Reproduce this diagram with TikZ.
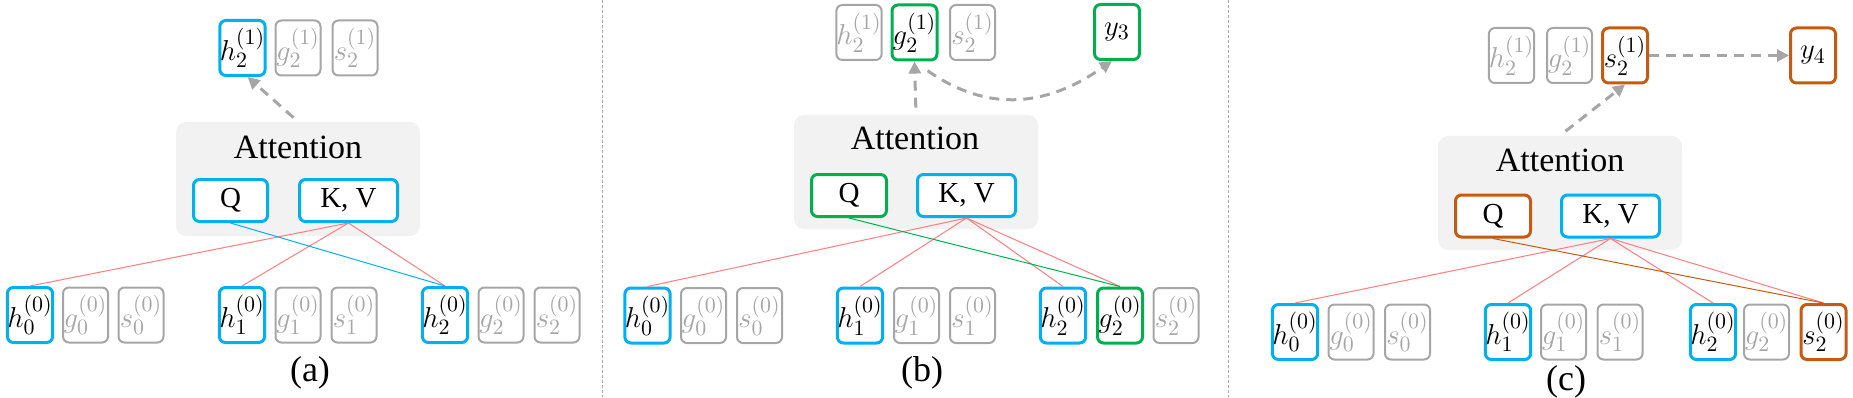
\documentclass[tikz,border=0pt]{standalone}
\usepackage{fontspec}
\setmainfont{Liberation Serif}
\usetikzlibrary{arrows.meta}
\definecolor{kvblue}{HTML}{00B0F0}
\definecolor{qgreen}{HTML}{00B050}
\definecolor{qorange}{HTML}{C55A11}
\definecolor{cellgrey}{HTML}{A6A6A6}
\definecolor{linkred}{HTML}{FF7C80}
\definecolor{attgrey}{HTML}{F2F2F2}

\begin{document}
\begin{tikzpicture}[x=0.5pt, y=0.5pt,
            cell/.style={rounded corners=3pt, minimum width=22.5pt, minimum height=27.5pt, inner sep=0pt, fill=white, font=\fontsize{15}{17}\selectfont},
            bluecell/.style={cell, draw=kvblue, line width=1.5pt},
            greencell/.style={cell, draw=qgreen, line width=1.5pt},
            orangecell/.style={cell, draw=qorange, line width=1.5pt},
            greycell/.style={cell, draw=cellgrey, line width=1pt, text=cellgrey},
            attbox/.style={fill=attgrey, rounded corners=5pt, minimum width=122pt, minimum height=57pt, inner sep=0pt},
            atttext/.style={font=\fontsize{17}{20}\selectfont},
            qkv/.style={rounded corners=3pt, minimum height=21pt, inner sep=0pt, fill=white, line width=1.5pt, font=\fontsize{14.5}{16}\selectfont},
            link/.style={line width=0.5pt},
            flow/.style={draw=cellgrey, line width=1.5pt, dash pattern=on 5pt off 3.5pt, -{Triangle[length=6pt,width=6pt]}},
            caption/.style={font=\fontsize{18}{20}\selectfont}
        ]
        \useasboundingbox (0,0) rectangle (1853,397);

        % Separators
        \coordinate (sep1top) at (602,397);
        \coordinate (sep1bot) at (602,0);
        \coordinate (sep2top) at (1228,397);
        \coordinate (sep2bot) at (1228,0);
        \draw[cellgrey, line width=0.5pt, dash pattern=on 1.5pt off 1pt] (sep1top) -- (sep1bot);
        \draw[cellgrey, line width=0.5pt, dash pattern=on 1.5pt off 1pt] (sep2top) -- (sep2bot);

        % Panel (a) - content stream
        \node[attbox] (attA) at (298,218) {};
        \node[atttext] (attTextA) at (298,250) {Attention};
        \node[qkv, draw=kvblue, minimum width=37pt] (qA) at (230.5,196.5) {Q};
        \node[qkv, draw=kvblue, minimum width=49pt] (kvA) at (348.5,196.5) {K, V};
        \node[bluecell] (h21A) at (242.5,349) {$h_2^{(1)}$};
        \node[greycell] (g21A) at (298,349) {$g_2^{(1)}$};
        \node[greycell] (s21A) at (355,349) {$s_2^{(1)}$};
        \node[bluecell] (h0A) at (30,82) {$h_0^{(0)}$};
        \node[greycell] (g0A) at (85.5,82) {$g_0^{(0)}$};
        \node[greycell] (s0A) at (141,82) {$s_0^{(0)}$};
        \node[bluecell] (h1A) at (242,82) {$h_1^{(0)}$};
        \node[greycell] (g1A) at (298,82) {$g_1^{(0)}$};
        \node[greycell] (s1A) at (354,82) {$s_1^{(0)}$};
        \node[bluecell] (h2A) at (445,82) {$h_2^{(0)}$};
        \node[greycell] (g2A) at (501,82) {$g_2^{(0)}$};
        \node[greycell] (s2A) at (557,82) {$s_2^{(0)}$};
        \draw[link, linkred] (kvA.south) -- (h0A.north);
        \draw[link, linkred] (kvA.south) -- (h1A.north);
        \draw[link, linkred] (kvA.south) -- (h2A.north);
        \draw[link, kvblue] (qA.south) -- (h2A.north);
        \draw[flow, shorten <=3pt] (attA.north) -- (h21A.-80);
        \node[caption] (labA) at (310,24) {(a)};

        % Panel (b) - query stream
        \node[attbox] (attB) at (916,225) {};
        \node[atttext] (attTextB) at (915,259) {Attention};
        \node[qkv, draw=qgreen, minimum width=37.5pt] (qB) at (849,201.5) {Q};
        \node[qkv, draw=kvblue, minimum width=49pt] (kvB) at (966.5,201.5) {K, V};
        \node[greycell] (h21B) at (859,364.5) {$h_2^{(1)}$};
        \node[greencell] (g21B) at (914.5,364.5) {$g_2^{(1)}$};
        \node[greycell] (s21B) at (972.5,364.5) {$s_2^{(1)}$};
        \node[greencell] (y3) at (1117,365) {$y_3$};
        \node[bluecell] (h0B) at (647.5,81.5) {$h_0^{(0)}$};
        \node[greycell] (g0B) at (703.5,81.5) {$g_0^{(0)}$};
        \node[greycell] (s0B) at (759.5,81.5) {$s_0^{(0)}$};
        \node[bluecell] (h1B) at (860,81.5) {$h_1^{(0)}$};
        \node[greycell] (g1B) at (916.5,81.5) {$g_1^{(0)}$};
        \node[greycell] (s1B) at (972.5,81.5) {$s_1^{(0)}$};
        \node[bluecell] (h2B) at (1063,81.5) {$h_2^{(0)}$};
        \node[greencell] (g2B) at (1120,81.5) {$g_2^{(0)}$};
        \node[greycell] (s2B) at (1176,81.5) {$s_2^{(0)}$};
        \draw[link, linkred] (kvB.south) -- (h0B.north);
        \draw[link, linkred] (kvB.south) -- (h1B.north);
        \draw[link, linkred] (kvB.south) -- (h2B.north);
        \draw[link, linkred] (kvB.south) -- (g2B.north);
        \draw[link, qgreen] (qB.south) -- (g2B.north);
        \draw[flow, shorten <=3.5pt] (attB.north) -- (g21B.south);
        \draw[flow, shorten <=8pt] (g21B.south) to[out=-35, in=-145, looseness=1.1] (y3.-100);
        \node[caption] (labB) at (922,24) {(b)};

        % Panel (c) - state stream
        \node[attbox] (attC) at (1560,204) {};
        \node[atttext] (attTextC) at (1560,237) {Attention};
        \node[qkv, draw=qorange, minimum width=37.5pt] (qC) at (1493,181) {Q};
        \node[qkv, draw=kvblue, minimum width=49pt] (kvC) at (1610.5,181) {K, V};
        \node[greycell] (h21C) at (1511.5,341.5) {$h_2^{(1)}$};
        \node[greycell] (g21C) at (1569.5,341.5) {$g_2^{(1)}$};
        \node[orangecell] (s21C) at (1625,341.5) {$s_2^{(1)}$};
        \node[orangecell] (y4) at (1813,341.5) {$y_4$};
        \node[bluecell] (h0C) at (1295,65) {$h_0^{(0)}$};
        \node[greycell] (g0C) at (1351,65) {$g_0^{(0)}$};
        \node[greycell] (s0C) at (1407.5,65) {$s_0^{(0)}$};
        \node[bluecell] (h1C) at (1508,65) {$h_1^{(0)}$};
        \node[greycell] (g1C) at (1563.5,65) {$g_1^{(0)}$};
        \node[greycell] (s1C) at (1620,65) {$s_1^{(0)}$};
        \node[bluecell] (h2C) at (1713,65) {$h_2^{(0)}$};
        \node[greycell] (g2C) at (1766.5,65) {$g_2^{(0)}$};
        \node[orangecell] (s2C) at (1823.5,65) {$s_2^{(0)}$};
        \draw[link, linkred] (kvC.south) -- (h0C.north);
        \draw[link, linkred] (kvC.south) -- (h1C.north);
        \draw[link, linkred] (kvC.south) -- (h2C.north);
        \draw[link, linkred] (kvC.south) -- (s2C.north);
        \draw[link, qorange] (qC.south) -- (s2C.north);
        \draw[flow, shorten <=3.5pt] (attC.north) -- (s21C.south);
        \draw[flow] (s21C.east) -- (y4.west);
        \node[caption] (labC) at (1566,15) {(c)};
\end{tikzpicture}
\end{document}
